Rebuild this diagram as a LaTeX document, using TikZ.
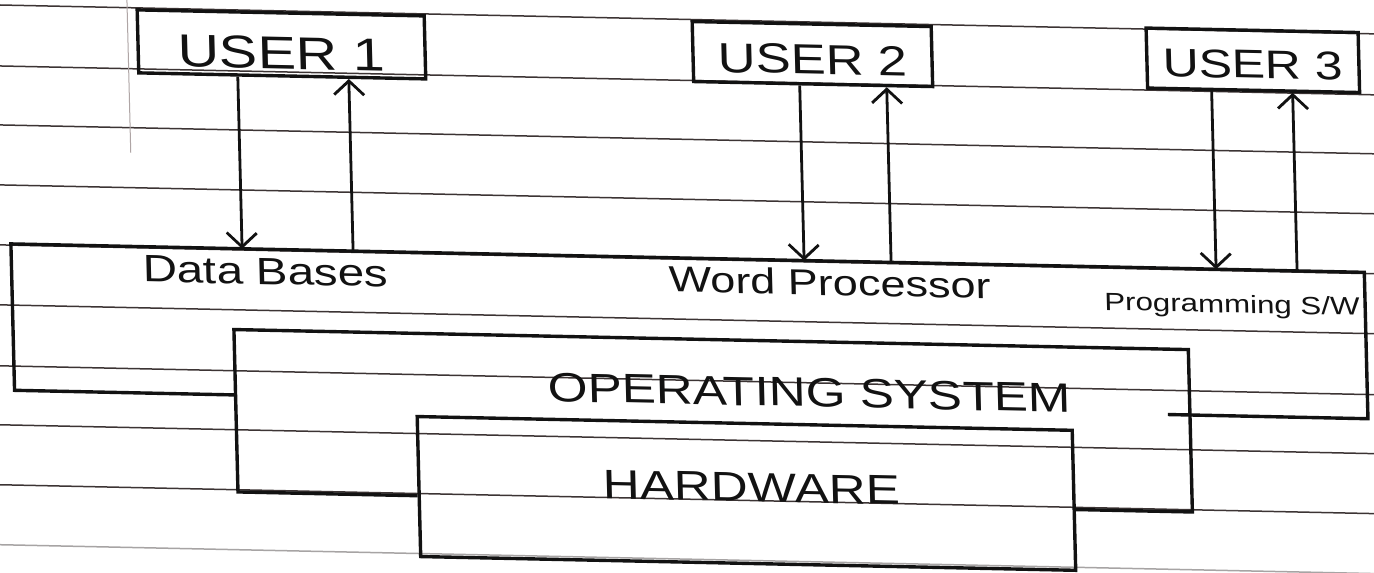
\documentclass[tikz,border=0pt]{standalone}
\usepackage{fontspec}
\newfontfamily\handfont[FakeStretch=1.25]{Liberation Sans}
\usetikzlibrary{arrows.meta}
\definecolor{ink}{RGB}{18,18,18}
\definecolor{ruleline}{RGB}{60,52,52}
\definecolor{marginline}{RGB}{175,165,165}

\begin{document}
\begin{tikzpicture}[x=1pt, y=-1pt,
  hand/.style={font={\handfont\fontsize{#1pt}{#1pt}\selectfont}, text=ink, inner sep=0pt, anchor=base},
  userbox/.style={draw=ink, line width=3.4pt, inner sep=0pt, anchor=center, text depth=0pt},
  layer/.style={inner sep=0pt, anchor=center},
  edge/.style={draw=ink, line width=3.4pt, line join=miter},
  flow/.style={draw=ink, line width=2.8pt, -{Straight Barb[length=14pt, width=30pt]}},
  ruling/.style={draw=ruleline, line width=1.5pt},
]
\useasboundingbox (0,0) rectangle (1374,573);
\clip (0,0) rectangle (1374,573);
\fill[white] (0,0) rectangle (1374,573);

% the sheet sits slightly skewed
\begin{scope}[transform canvas={cm={1,-0.021,-0.025,1,(0,0)}}]
  % ruled notebook paper
  \foreach \ry in {5,66,125,185,245,305,366,425,485}
    \draw[ruling] (-80,\ry) -- (1460,\ry);
  \draw[ruling, ruleline!45] (-80,545) -- (1460,545);
  \draw[draw=marginline, line width=1pt] (127,-20) -- (127,150);

  % users
  \node[hand=46, userbox, minimum width=287pt, minimum height=63pt, text height=49pt] (u1) at (280.5,38.5) {USER 1};
  \node[hand=42, userbox, minimum width=239pt, minimum height=60pt, text height=40pt] (u2) at (811.5,37) {USER 2};
  \node[hand=40, userbox, minimum width=212pt, minimum height=60pt, text height=36pt] (u3) at (1252,34) {USER 3};

  % layers: applications, operating system, hardware
  \node[layer, minimum width=1353pt, minimum height=146pt] (app) at (681.5,317) {};
  \node[layer, minimum width=954pt, minimum height=162pt] (os) at (703,406) {};
  \node[layer, draw=ink, line width=3.4pt, minimum width=655pt, minimum height=140pt] (hw) at (734.5,478) {};

  \coordinate (appcut) at ([xshift=-22pt]os.east);
  \draw[edge] (os.west |- app.south) -- (app.south west) -- (app.north west)
    -- (app.north east) -- (app.south east) -- (appcut |- app.south);
  \draw[edge] (hw.west |- os.south) -- (os.south west) -- (os.north west)
    -- (os.north east) -- (os.south east) -- (hw.east |- os.south);

  % labels
  \node[hand=38] (dbl) at (259,279) {Data Bases};
  \node[hand=36] (wpl) at (823,278) {Word Processor};
  \node[hand=25] (pgl) at (1225,287) {Programming S/W};
  \node[hand=41] (osl) at (800,390) {OPERATING SYSTEM};
  \node[hand=41] (hwl) at (740,486) {HARDWARE};

  % request / response arrows
  \coordinate (d1) at ([xshift=-44.5pt]u1.south);
  \coordinate (r1) at ([xshift=66.5pt]u1.south);
  \coordinate (d2) at ([xshift=-13.5pt]u2.south);
  \coordinate (r2) at ([xshift=73.5pt]u2.south);
  \coordinate (d3) at ([xshift=-42pt]u3.south);
  \coordinate (r3) at ([xshift=39pt]u3.south);
  \draw[flow] (d1) -- (d1 |- app.north);
  \draw[flow] (r1 |- app.north) -- (r1);
  \draw[flow] (d2) -- (d2 |- app.north);
  \draw[flow] (r2 |- app.north) -- (r2);
  \draw[flow] (d3) -- (d3 |- app.north);
  \draw[flow] (r3 |- app.north) -- (r3);
\end{scope}
\end{tikzpicture}
\end{document}
